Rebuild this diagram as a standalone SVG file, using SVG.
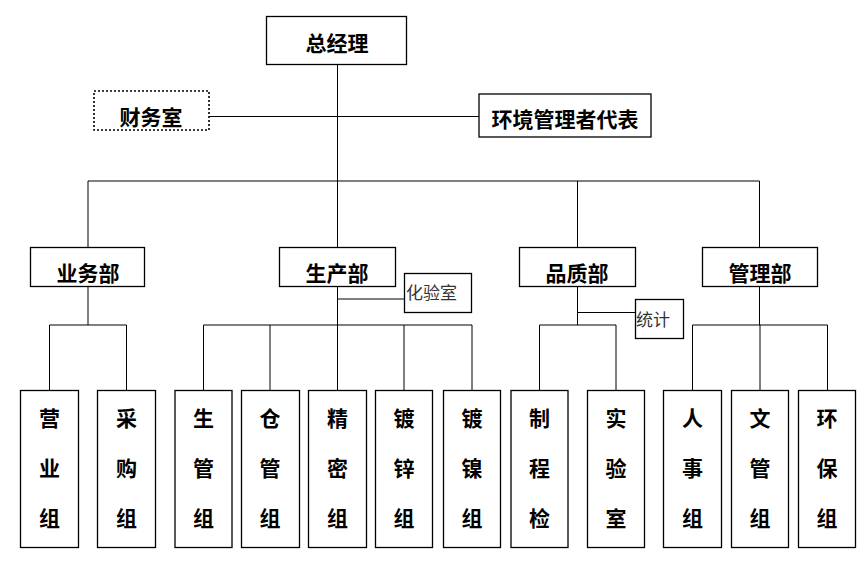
<svg xmlns="http://www.w3.org/2000/svg" width="864" height="566" viewBox="0 0 864 566">
<style>
.b{fill:#fff;stroke:#000;stroke-width:1.3}
.d{fill:#fff;stroke:#000;stroke-width:1.6;stroke-dasharray:2 2}
.t{font-family:"Noto Sans CJK SC","Liberation Sans",sans-serif;font-size:21px;font-weight:bold;fill:#000;text-anchor:middle;dominant-baseline:central}
.s{font-family:"Noto Sans CJK SC","Liberation Sans",sans-serif;font-size:17px;fill:#333;dominant-baseline:central}
.c{stroke:#000;stroke-width:1;fill:none}
</style>
<rect width="864" height="566" fill="#fff"/>
<g id="connectors">
<path class="c" d="M337.5 64V247M209 116.5H479M88 181H759.5M88 181V247M577.5 181V247M759.5 181V247"/>
<path class="c" d="M88 286V325M49.5 325H126.5M49.5 325V390M126.5 325V390"/>
<path class="c" d="M337.5 286V390M203.5 325H472M203.5 325V390M270 325V390M404 325V390M472 325V390M337.5 299H404"/>
<path class="c" d="M577.5 286V325M539.5 325H616M539.5 325V390M616 325V390M577.5 312.5H635"/>
<path class="c" d="M759.5 286V325M692.5 325H827.5M692.5 325V390M760 325V390M827.5 325V390"/>
</g>
<g id="n-zjl"><rect class="b" x="266.5" y="16.5" width="140" height="48"/><text class="t" x="337" y="42">总经理</text></g>
<g id="n-cws"><rect class="d" x="94" y="91" width="115" height="39"/><text class="t" x="151" y="116">财务室</text></g>
<g id="n-hjdb"><rect class="b" x="479" y="94" width="172" height="43"/><text class="t" x="565" y="118">环境管理者代表</text></g>
<g id="n-ywb"><rect class="b" x="30.5" y="247.5" width="114" height="39"/><text class="t" x="88" y="272">业务部</text></g>
<g id="n-scb"><rect class="b" x="279.5" y="247.5" width="116" height="39"/><text class="t" x="337" y="272">生产部</text></g>
<g id="n-pzb"><rect class="b" x="519.5" y="247.5" width="116" height="39"/><text class="t" x="577" y="272">品质部</text></g>
<g id="n-glb"><rect class="b" x="702.5" y="247.5" width="115" height="39"/><text class="t" x="760" y="272">管理部</text></g>
<g id="n-hys"><rect class="b" x="404.5" y="273.5" width="67" height="39"/><text class="s" x="406" y="291">化验室</text></g>
<g id="n-tj"><rect class="b" x="635.5" y="299.5" width="48" height="39"/><text class="s" x="636" y="318">统计</text></g>
<g id="n-yyz"><rect class="b" x="20.5" y="390.5" width="58" height="157"/><text class="t" x="49.5" y="417">营</text><text class="t" x="49.5" y="467">业</text><text class="t" x="49.5" y="517">组</text></g>
<g id="n-cgz"><rect class="b" x="97.5" y="390.5" width="58" height="157"/><text class="t" x="126.5" y="417">采</text><text class="t" x="126.5" y="467">购</text><text class="t" x="126.5" y="517">组</text></g>
<g id="n-sgz"><rect class="b" x="175" y="390.5" width="57" height="157"/><text class="t" x="203.5" y="417">生</text><text class="t" x="203.5" y="467">管</text><text class="t" x="203.5" y="517">组</text></g>
<g id="n-cgz2"><rect class="b" x="241.5" y="390.5" width="58" height="157"/><text class="t" x="270" y="417">仓</text><text class="t" x="270" y="467">管</text><text class="t" x="270" y="517">组</text></g>
<g id="n-jmz"><rect class="b" x="308.5" y="390.5" width="58" height="157"/><text class="t" x="337.5" y="417">精</text><text class="t" x="337.5" y="467">密</text><text class="t" x="337.5" y="517">组</text></g>
<g id="n-dxz"><rect class="b" x="375.5" y="390.5" width="57" height="157"/><text class="t" x="404" y="417">镀</text><text class="t" x="404" y="467">锌</text><text class="t" x="404" y="517">组</text></g>
<g id="n-dnz"><rect class="b" x="443.5" y="390.5" width="57" height="157"/><text class="t" x="472" y="417">镀</text><text class="t" x="472" y="467">镍</text><text class="t" x="472" y="517">组</text></g>
<g id="n-zcj"><rect class="b" x="511" y="390.5" width="57" height="157"/><text class="t" x="539.5" y="417">制</text><text class="t" x="539.5" y="467">程</text><text class="t" x="539.5" y="517">检</text></g>
<g id="n-sys"><rect class="b" x="587.5" y="390.5" width="57" height="157"/><text class="t" x="616" y="417">实</text><text class="t" x="616" y="467">验</text><text class="t" x="616" y="517">室</text></g>
<g id="n-rsz"><rect class="b" x="663.5" y="390.5" width="58" height="157"/><text class="t" x="692.5" y="417">人</text><text class="t" x="692.5" y="467">事</text><text class="t" x="692.5" y="517">组</text></g>
<g id="n-wgz"><rect class="b" x="731.5" y="390.5" width="57" height="157"/><text class="t" x="760" y="417">文</text><text class="t" x="760" y="467">管</text><text class="t" x="760" y="517">组</text></g>
<g id="n-hbz"><rect class="b" x="798.5" y="390.5" width="57" height="157"/><text class="t" x="827" y="417">环</text><text class="t" x="827" y="467">保</text><text class="t" x="827" y="517">组</text></g>
</svg>
